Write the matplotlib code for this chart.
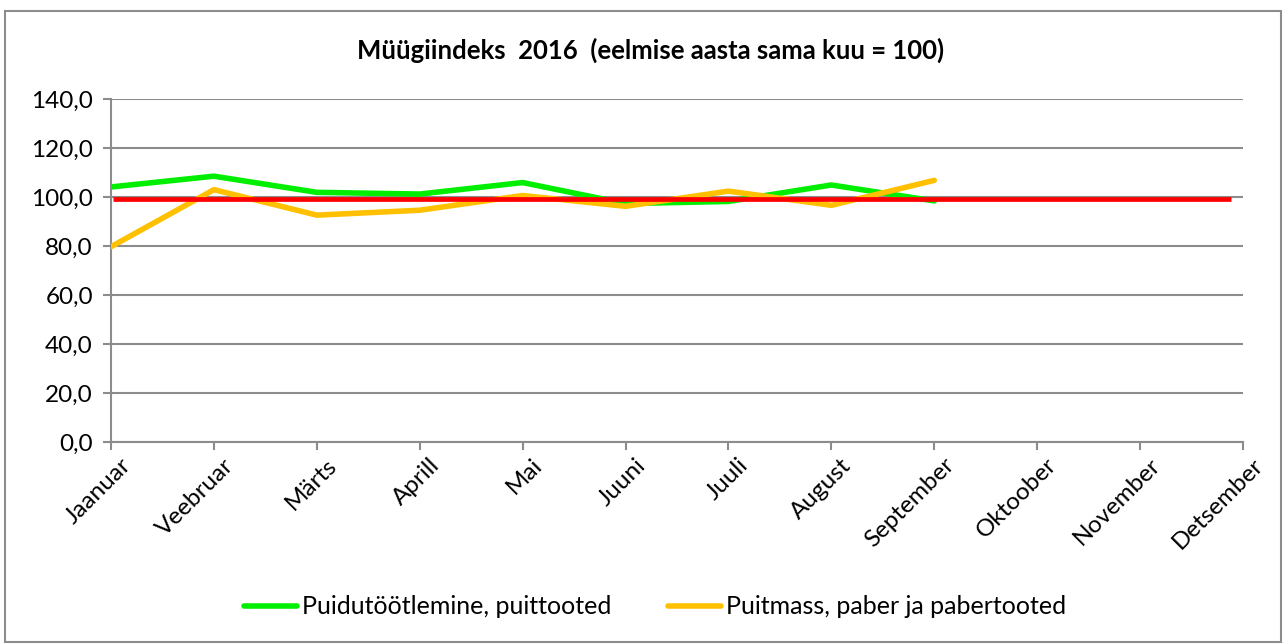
import matplotlib
matplotlib.use("Agg")
import matplotlib.pyplot as plt
import matplotlib.transforms as mtransforms
from matplotlib.patches import Rectangle
from matplotlib.ticker import FuncFormatter

months = ["Jaanuar", "Veebruar", "Märts", "Aprill", "Mai", "Juuni", "Juuli",
          "August", "September", "Oktoober", "November", "Detsember"]
puit = [104.1, 108.5, 101.9, 101.2, 105.9, 97.3, 98.2, 104.9, 98.4]
paber = [79.7, 103.0, 92.6, 94.6, 100.6, 96.2, 102.4, 96.6, 106.8]
ref_level = 99.1
series_names = ["Puidutöötlemine, puittooted", "Puitmass, paber ja pabertooted"]
title = "Müügiindeks  2016  (eelmise aasta sama kuu = 100)"

plt.rcParams['font.family'] = ['Lato', 'DejaVu Sans']

W, H = 1284, 644
fig = plt.figure(figsize=(W / 100, H / 100), dpi=100)
ax = fig.add_axes([111 / W, 1 - 442 / H, (1243 - 111) / W, (442 - 99) / H])

grid_c = "#8c8c8c"
ax.set_xlim(0, len(months) - 1)
ax.set_ylim(0, 140)
ax.set_yticks(range(0, 141, 20))
ax.yaxis.set_major_formatter(FuncFormatter(lambda v, p: f"{v:.1f}".replace(".", ",")))
ax.set_xticks(range(len(months)))
ax.set_xticklabels(months, rotation=45, ha="right", rotation_mode="anchor", fontsize=17.5)
ax.tick_params(axis="y", labelsize=17.5, length=6, color=grid_c, width=1.5, pad=7)
ax.tick_params(axis="x", length=6, color=grid_c, width=1.5, pad=3)
shift = mtransforms.ScaledTranslation(9 / 100, 0, fig.dpi_scale_trans)
for lab in ax.get_xticklabels():
    lab.set_transform(lab.get_transform() + shift)
ax.grid(axis="y", color=grid_c, linewidth=1.5)
ax.set_axisbelow(True)
for s in ["top", "right"]:
    ax.spines[s].set_visible(False)
for s in ["left", "bottom"]:
    ax.spines[s].set_color(grid_c)
    ax.spines[s].set_linewidth(1.5)

x = list(range(len(puit)))
l1, = ax.plot(x, puit, color="#00ee00", linewidth=4, solid_capstyle="round", label=series_names[0], zorder=3)
l2, = ax.plot(list(range(len(paber))), paber, color="#ffc000", linewidth=4, solid_capstyle="round", label=series_names[1], zorder=3)
ax.hlines(ref_level, 0.02, 10.88, color="#ff0000", linewidth=3.4, zorder=4)

fig.text(651 / W, 1 - 50 / H, title, ha="center", va="center", fontsize=18.5, fontweight="bold")

leg = fig.legend(handles=[l1, l2], loc="center", bbox_to_anchor=(655 / W, 1 - 607 / H),
                 ncol=2, frameon=False, fontsize=18, handlelength=2.1, handletextpad=0.2,
                 columnspacing=2.3)

fig.patches.append(Rectangle((5 / W, 2 / H), (W - 8) / W, (H - 13) / H, transform=fig.transFigure,
                             fill=False, edgecolor=grid_c, linewidth=1.5))

fig.savefig("out.png", dpi=100)
